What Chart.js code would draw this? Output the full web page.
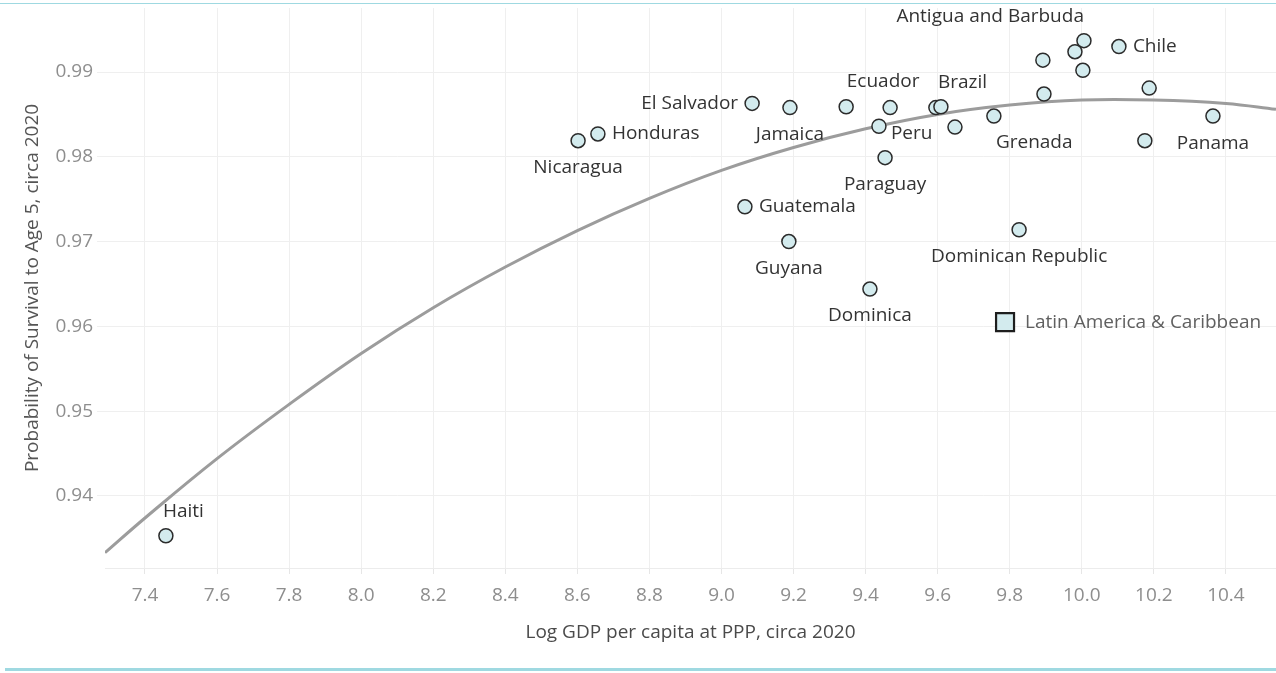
<!DOCTYPE html>
<html lang="en">
<head>
    <meta charset="UTF-8">
    <title>Survival to Age 5 vs Log GDP per capita</title>
    <style>
        html, body { margin: 0; padding: 0; background: #fff; overflow: hidden; }
        .frame { position: relative; width: 1276px; height: 673px; overflow: hidden; }
        .rule-top { position: absolute; left: 0; top: 3px; width: 1276px; height: 1px; background: #9fd9e1; }
        .rule-bottom { position: absolute; left: 5px; top: 668px; width: 1271px; height: 3px; background: #9fd9e1; }
        #scatterChart { position: absolute; left: 0; top: 0; }
    </style>
</head>
<body>
    <div class="frame">
        <div class="rule-top"></div>
        <canvas id="scatterChart" width="1276" height="660"></canvas>
        <div class="rule-bottom"></div>
    </div>

    <script src="https://cdn.jsdelivr.net/npm/chart.js"></script>
    <script>
        // countries (empty name = unlabelled point)
        const countries = [
            'Haiti', 'Nicaragua', 'Honduras', 'El Salvador', 'Jamaica', '', 'Ecuador', 'Peru',
            'Paraguay', '', 'Brazil', '', 'Grenada', '', '', '', 'Antigua and Barbuda', '',
            'Chile', '', '', 'Panama', 'Guatemala', 'Guyana', 'Dominican Republic', 'Dominica'
        ];
        const logGdp = [
            7.458, 8.602, 8.657, 9.085, 9.190, 9.346, 9.468, 9.437,
            9.454, 9.595, 9.609, 9.648, 9.756, 9.895, 9.892, 9.981, 10.006, 10.003,
            10.103, 10.187, 10.175, 10.364, 9.065, 9.187, 9.826, 9.412
        ];
        const survival = [
            0.9353, 0.9819, 0.9827, 0.9863, 0.9858, 0.9859, 0.9858, 0.9836,
            0.9799, 0.9858, 0.9859, 0.9835, 0.9848, 0.9874, 0.9914, 0.9924, 0.9937, 0.9902,
            0.9930, 0.9881, 0.9819, 0.9848, 0.9741, 0.9700, 0.9714, 0.9644
        ];
        const labelSide = [
            'aboveright', 'below', 'right', 'left', 'below', '', 'above', 'rightlow',
            'below', '', 'aboveright', '', 'belowright', '', '', '', 'aboveleft', '',
            'right', '', '', 'below', 'right', 'below', 'below', 'below'
        ];

        // regional average
        const regionName = 'Latin America & Caribbean';
        const regionGdp = 9.787;
        const regionSurvival = 0.9605;

        // fitted curve
        const fitX = [7.289, 7.4, 7.6, 7.8, 8.0, 8.2, 8.4, 8.6, 8.8, 9.0, 9.2, 9.4, 9.6, 9.8, 10.0, 10.2, 10.4, 10.539];
        const fitY = [0.9333, 0.9374, 0.9444, 0.9508, 0.9568, 0.9622, 0.9670, 0.9713, 0.9751, 0.9784, 0.9811, 0.9833, 0.9850, 0.9861, 0.9867, 0.9867, 0.9863, 0.9856];

        const xTicks = [7.4, 7.6, 7.8, 8.0, 8.2, 8.4, 8.6, 8.8, 9.0, 9.2, 9.4, 9.6, 9.8, 10.0, 10.2, 10.4];
        const yTicks = [0.94, 0.95, 0.96, 0.97, 0.98, 0.99];

        const labelFont = '19px "Open Sans", sans-serif';

        // offsets for each label side: dx, dy, align
        const sideOffsets = {
            below: [0, 27, 'center'],
            above: [-7, -26, 'center'],
            right: [14, 0, 'left'],
            rightlow: [12, 7, 'left'],
            left: [-14, 0, 'right'],
            aboveright: [-3, -24, 'left'],
            aboveleft: [0, -24, 'right'],
            belowright: [2, 26, 'left']
        };

        const pointLabels = {
            id: 'pointLabels',
            afterDatasetsDraw(chart) {
                const ctx = chart.ctx;
                ctx.save();
                ctx.font = labelFont;
                ctx.fillStyle = '#333333';
                ctx.textBaseline = 'middle';
                chart.getDatasetMeta(0).data.forEach((pt, i) => {
                    const side = labelSide[i];
                    if (!countries[i] || !side) return;
                    const o = sideOffsets[side];
                    ctx.textAlign = o[2];
                    ctx.fillText(countries[i], pt.x + o[0], pt.y + o[1]);
                });
                const sq = chart.getDatasetMeta(1).data[0];
                ctx.textAlign = 'left';
                ctx.fillStyle = '#606060';
                ctx.fillText(regionName, sq.x + 20, sq.y);
                ctx.restore();
            }
        };

        function noPad(scale) {
            scale.paddingLeft = 0;
            scale.paddingRight = 0;
            scale.paddingTop = 0;
            scale.paddingBottom = 0;
        }

        const ctx = document.getElementById('scatterChart').getContext('2d');
        new Chart(ctx, {
            type: 'scatter',
            data: {
                datasets: [
                    {
                        label: 'Countries',
                        data: logGdp.map((x, i) => ({ x: x, y: survival[i] })),
                        pointRadius: 7,
                        pointBackgroundColor: '#d3ebee',
                        pointBorderColor: '#2b2b2b',
                        pointBorderWidth: 1.5,
                        order: 1
                    },
                    {
                        label: regionName,
                        data: [{ x: regionGdp, y: regionSurvival }],
                        pointStyle: 'rect',
                        pointRadius: 12.7,
                        pointBackgroundColor: '#d3ebee',
                        pointBorderColor: '#1e1e1e',
                        pointBorderWidth: 2.2,
                        order: 0
                    },
                    {
                        label: 'Fit',
                        data: fitX.map((x, i) => ({ x: x, y: fitY[i] })),
                        showLine: true,
                        tension: 0.4,
                        pointRadius: 0,
                        borderColor: '#9c9c9c',
                        borderWidth: 3,
                        order: 2
                    }
                ]
            },
            options: {
                responsive: false,
                animation: false,
                layout: { autoPadding: false, padding: { top: 8, right: 0, left: 0, bottom: 0 } },
                plugins: {
                    legend: { display: false },
                    tooltip: { enabled: false }
                },
                scales: {
                    x: {
                        type: 'linear',
                        min: 7.289,
                        max: 10.539,
                        afterBuildTicks: (scale) => { scale.ticks = xTicks.map(v => ({ value: v })); },
                        afterFit: (scale) => { scale.height = 92; noPad(scale); },
                        grid: { color: '#efefef', tickLength: 6, tickColor: '#e6e6e6' },
                        border: { display: true, color: '#ececec' },
                        ticks: {
                            color: '#8e8e8e',
                            font: { family: 'Open Sans', size: 19 },
                            padding: 10,
                            maxRotation: 0,
                            callback: (v) => Number(v).toFixed(1)
                        },
                        title: {
                            display: true,
                            text: 'Log GDP per capita at PPP, circa 2020',
                            color: '#4a4a4a',
                            font: { family: 'Open Sans', size: 19 },
                            padding: { top: 0, bottom: 16 }
                        }
                    },
                    y: {
                        type: 'linear',
                        min: 0.9315,
                        max: 0.99755,
                        afterBuildTicks: (scale) => { scale.ticks = yTicks.map(v => ({ value: v })); },
                        afterFit: (scale) => { scale.width = 105; noPad(scale); },
                        grid: { color: '#efefef', tickLength: 8, tickColor: '#efefef' },
                        border: { display: false },
                        ticks: {
                            color: '#8e8e8e',
                            font: { family: 'Open Sans', size: 19 },
                            padding: 4,
                            callback: (v) => Number(v).toFixed(2)
                        },
                        title: {
                            display: true,
                            text: 'Probability of Survival to Age 5, circa 2020',
                            color: '#555555',
                            font: { family: 'Open Sans', size: 19 },
                            padding: { top: 21, bottom: 0 }
                        }
                    }
                }
            },
            plugins: [pointLabels]
        });
    </script>
</body>
</html>
